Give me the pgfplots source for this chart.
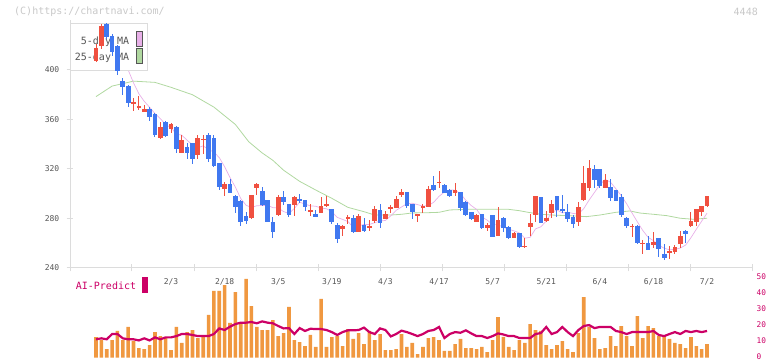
\documentclass[border=0pt]{standalone}
\usepackage{pgfplots}
\pgfplotsset{compat=1.18}
\usepackage{pgfplotstable}
\usepackage{fontspec}
\setmainfont{DejaVu Sans Mono}
\definecolor{cRed}{RGB}{240,80,64}
\definecolor{cBlue}{RGB}{64,120,240}
\definecolor{cOrange}{RGB}{240,152,64}
\definecolor{cMag}{RGB}{204,0,102}
\definecolor{cPink}{RGB}{232,176,232}
\definecolor{cGreen}{RGB}{176,216,160}
\definecolor{cAxis}{RGB}{220,220,220}
\definecolor{cText}{RGB}{85,85,85}
\definecolor{cWm}{RGB}{200,200,200}

\pgfplotstableread{
i O H L C
0 407.3 421 406.6 417.5
1 419.7 437 417 435.6
7 373 377.4 367 374.4
8 369.8 379 367.7 370.9
9 366.3 372 366 368.8
12 345.3 358 344.5 353.7
14 352 357.4 348.8 356.4
16 333.2 347.5 333 343.4
19 331 347.5 328.4 344.8
20 343.6 347.5 332.4 344.4
24 303.6 309.5 298.5 307.9
29 280.4 299 279.9 299
30 304.6 309 299.3 307.6
34 282.8 299 282 297.4
37 291.2 298.2 282 297.4
40 285.8 291.7 282 286.6
42 284.7 297.4 284.7 290.1
43 290.6 298.2 289 291.7
46 271.5 274.7 266.1 273.7
47 279.9 283.1 275.8 281
49 269.4 283.4 269.4 282
51 272.9 278.8 269.6 273.9
52 278 290.1 276 287.7
54 279.9 286.1 279.9 283.6
55 288.2 290.9 284.7 289
56 288.8 298.2 288.5 295.8
57 299.3 303.8 297.1 301.4
60 282.8 284 277.4 283.6
61 288.8 291.7 284.4 289.8
62 289.3 306.5 289 303.8
64 308.7 318.7 304.6 309.5
67 300.9 308.8 298.2 303
71 277.4 283.6 277 282.8
73 272.6 276.6 270.2 275
75 266.1 289 266 279.1
78 264.5 269.1 264.5 268.3
80 257.2 264.2 256.2 258
81 273.1 283.6 266.1 276.4
82 283.1 298.5 277.4 298.2
84 278.2 286.1 277.2 280.7
85 284.4 294.9 280.7 291.7
90 277.4 293.3 274.2 289.3
91 294.9 322.7 294.1 308.7
92 304.9 327.3 302.5 320.8
95 304.6 316 304.6 311.1
100 273.4 275.8 265.3 274.2
102 259.6 262.4 251.6 260.4
104 258.9 269.4 256.4 261
107 252.4 257.8 247.5 253.7
108 253.2 258.6 251.6 257
109 259.7 269.9 256.4 265.9
111 273.9 285.3 273.1 278
112 277.4 287.7 274.2 287.7
113 285.3 290.1 282 290.1
114 290.1 298.2 289.3 298.2
}\up

\pgfplotstableread{
i O H L C
2 437 438 425 427
3 427.5 429 411 414.8
4 419.4 420 396 399.2
5 391 393.5 380 386.5
6 387 388 370 373
10 368.8 369.8 358.5 362.3
11 364.4 365 345.6 347.7
13 358 359 346 347
15 354 355 332.7 336.4
17 337.8 341.3 328.4 332.7
18 340.7 341 324.3 328.4
21 347.5 348.8 326 328.4
22 345 347.7 322 322.7
23 324.6 325 303 305.7
25 307.9 312 300.3 300.9
26 298.2 299 284.7 289.6
27 294.4 294.7 274.2 276.9
28 282 285.2 275.8 278.2
31 302.2 305.5 290 290.9
32 294.9 295 277 277.2
33 277.2 281.5 264.5 269.1
35 297.4 302.2 291.2 293.6
36 291.7 292 281.5 283.1
38 295.8 299.8 292.8 294.4
39 294.9 295 286.3 289.5
41 283.6 286.9 281 281.5
44 287.7 288 275.8 277.4
45 274.5 276 260.5 263.7
48 280.4 282.8 268.6 269.4
50 274.7 280.4 269.4 269.9
53 286.9 291.7 272.6 276.7
58 301.4 301.5 288.2 290.1
59 291.7 292 279.9 285.3
63 307.1 314.6 302.5 303
65 307.1 307.5 300.5 300.9
66 303 303.8 297.4 298.2
68 301.4 301.5 286.3 288.8
69 293.3 294 282 282.8
70 285.3 285.5 279 279.6
72 283.6 284 271.8 272.6
74 282.8 283 265 265.3
76 280.4 281.2 269.4 272.6
77 273.1 274 263.7 264.5
79 268.3 268.5 256.4 257.2
83 297.4 297.5 276.4 276.7
86 298.2 298.5 281.2 287.1
87 287.7 299 284.7 286.1
88 285.3 291.7 277.4 279.9
89 281.2 282.8 272.6 275.8
93 320 323.5 304.9 311.1
94 320 320.3 304.9 306.5
96 305.5 311.9 294.4 296.8
97 303 303.3 294 294.4
98 297.4 299.8 281.5 283.1
99 280.4 281.2 272.6 274.2
101 274.2 274.5 259.7 260.5
103 260.2 266.1 254.5 254.8
105 264.2 264.5 249.2 255.6
106 251.3 259.7 246.7 248.4
110 269.9 270.7 260.5 267.7
}\down

\pgfplotstableread{
i m
4 418.8
5 412.6
6 400.1
7 389.6
8 380.8
9 374.7
10 369.9
11 364.8
12 360.7
13 355.9
14 353.4
15 348.2
16 347.4
17 343.2
18 339.5
19 337.1
20 338.7
21 335.7
22 333.7
23 329.2
24 321.8
25 313.1
26 305.4
27 296.2
28 290.7
29 288.9
30 290.3
31 290.5
32 290.6
33 288.8
34 288.4
35 285.6
36 284.1
37 288.1
38 293.2
39 291.6
40 290.2
41 289.9
42 288.4
43 287.9
44 285.5
45 280.9
46 279.3
47 277.5
48 273.0
49 274.0
50 275.2
51 275.2
52 276.6
53 278.0
54 278.4
55 282.2
56 286.6
57 289.3
58 292.0
59 292.3
60 291.2
61 290.0
62 290.5
63 293.1
64 297.9
65 301.4
66 303.1
67 302.9
68 300.1
69 294.7
70 290.5
71 287.4
72 281.3
73 278.6
74 275.1
75 275.0
76 272.9
77 271.3
78 270.0
79 268.3
80 264.1
81 264.8
82 271.6
83 273.3
84 278.0
85 284.7
86 286.9
87 284.5
88 285.1
89 284.1
90 283.6
91 288.0
92 294.9
93 301.1
94 307.3
95 311.6
96 309.3
97 304.0
98 298.4
99 291.9
100 284.5
101 277.3
102 270.4
103 264.8
104 262.1
105 258.4
106 256.0
107 254.7
108 255.1
109 256.1
110 258.5
111 264.5
112 271.3
113 277.9
114 284.3
}\maFive

\pgfplotstableread{
i m
0 378.5
3 387
7 391
11 390
14 386
18 380
22 370
26 356
28.5 342
31 333
33 327
35 319
38 310
41 303
44 296.3
47 289
50 285.5
52 282.8
55 282.8
57 283.4
59 284.5
62 284.7
64 285
66 286.9
69 287.4
72 287.4
77 287.4
79 286.3
81 284.7
83 283.4
85 282.8
88 282.3
91.5 281.5
94 282.8
97 285
99.6 286.1
101.5 284.4
104 283.4
106.5 282.3
109 280.2
111.4 279.4
114 280.2
}\maTwentyFive

\pgfplotstableread{
i v a
0 12.9 11.5
1 11 12.1
2 5.4 11.5
3 11 14.8
4 16.7 14.8
5 11 12.1
6 19.2 11.5
7 10.4 11.5
8 6 10.8
9 5.4 12.1
10 7.9 10.8
11 16 12.7
12 13.5 11.5
13 12.9 12.7
14 4.8 12.7
15 19.2 13.5
16 9.2 14.8
17 16 14.8
18 17.3 14.2
19 12.3 13.5
20 12.9 13.5
21 26.7 13.5
22 41.7 14.8
23 41.7 18.3
24 45.4 17.3
25 21.7 19.4
26 41 21
27 21.7 21.9
28 49.2 21.9
29 32.3 22.3
30 19.2 21.5
31 17.3 22.7
32 17.3 21.9
33 23.5 21.5
34 13.5 19.8
35 15.4 18.3
36 31.7 18.5
37 11 14.8
38 9.8 18.5
39 7.3 16.7
40 14.2 18.1
41 6.7 17.9
42 36.7 17.9
43 6.7 17.3
44 12.9 16
45 13.5 14.2
46 7.3 16
47 17.9 17.1
48 11.7 17.1
49 15.4 17.3
50 8.5 18.8
51 16.7 16
52 11 14.8
53 14.8 18.3
54 4.8 17.3
55 4.8 13.3
56 5.4 14.8
57 14.8 16.9
58 6.7 16
59 9.2 14.8
60 2.3 13.5
61 6.7 14.8
62 12.3 16.7
63 12.9 17.3
64 11 19.2
65 4.2 12.3
66 4.2 14.8
67 8.5 16
68 11.7 15.6
69 6 17.1
70 6 15.2
71 5.4 13.5
72 6.7 13.5
73 3.5 12.3
74 11 13.5
75 25.4 15.2
76 13 14.5
77 6.7 13.5
78 4.8 13.5
79 11 12.3
80 9.2 12.3
81 21 12.3
82 17.3 14.8
83 16.7 15.4
84 7.9 19.2
85 5.4 14.8
86 7.9 16
87 10.4 19.2
88 5.4 16
89 3.5 13.5
90 15.4 17.3
91 37.9 19.8
92 19.2 20.4
93 12.3 18.5
94 5.4 19.2
95 6 19.2
96 13.5 19.2
97 7.3 16.7
98 19.8 16
99 13.5 14.8
100 7.3 16
101 26 16
102 12.3 16
103 19.8 16
104 18.5 16.7
105 13.5 14.2
106 13.5 13.5
107 11.7 14.8
108 9.2 16
109 8.5 14.8
110 6 16.7
111 12.9 16
112 7.3 16.7
113 5.4 16
114 8.5 16.7
}\vol

\begin{document}
\begin{tikzpicture}[x=1pt,y=1pt]
\useasboundingbox (0,0) rectangle (772,361);
\node[anchor=west, inner sep=0pt, text=cWm, font=\fontsize{10}{12}\selectfont] at (14,349) {(C)https://chartnavi.com/};
\node[anchor=east, inner sep=0pt, text=cWm, font=\fontsize{10}{12}\selectfont] at (758,349) {4448};

\begin{axis}[
  at={(70pt,93pt)}, anchor=south west, scale only axis,
  width=682pt, height=247.5pt,
  xmin=-4.851, xmax=122.388, ymin=240, ymax=440,
  clip=false,
  axis x line*=bottom, axis y line*=left,
  axis line style={draw=cAxis, line width=1pt},
  tick style={draw=cAxis, line width=1pt},
  tick align=center, major tick length=7pt,
  xtick={-4.851,6.716,18.284,29.851,41.418,52.985,64.552,76.119,87.687,99.254,110.821,122.388},
  xticklabels={},
  ytick={240,280,320,360,400},
  /pgf/number format/assume math mode=true,
  yticklabel style={font=\fontsize{8}{9}\selectfont, text=cText, anchor=east, inner sep=0pt, xshift=-7pt},
]
\addplot[cGreen, line width=0.8pt, mark=none] table[x=i, y=m] {\maTwentyFive};
\addplot[cPink, line width=0.7pt, mark=none] table[x=i, y=m] {\maFive};
% legend box (drawn under the candles)
\draw[fill=white, draw=cAxis, line width=1pt] (axis cs:-4.851,437.2) rectangle (axis cs:9.70,399.2);
\node[anchor=base east, inner sep=0pt, text=cText, font=\fontsize{10}{12}\selectfont] at (axis cs:6.21,421) {5-day MA};
\node[anchor=base east, inner sep=0pt, text=cText, font=\fontsize{10}{12}\selectfont] at (axis cs:6.21,407.5) {25-day MA};
\draw[fill=cPink, draw=cText, line width=0.8pt] (axis cs:7.59,431.3) rectangle (axis cs:8.71,418.8);
\draw[fill=cGreen, draw=cText, line width=0.8pt] (axis cs:7.59,417.4) rectangle (axis cs:8.71,405.4);
% wicks
\addplot[draw=none, mark=none, error bars/.cd, y dir=both, y explicit, error mark=none,
  error bar style={draw=cRed, line width=1pt}]
  table[x=i, y expr=(\thisrow{H}+\thisrow{L})/2, y error expr=(\thisrow{H}-\thisrow{L})/2] {\up};
\addplot[draw=none, mark=none, error bars/.cd, y dir=both, y explicit, error mark=none,
  error bar style={draw=cBlue, line width=1pt}]
  table[x=i, y expr=(\thisrow{H}+\thisrow{L})/2, y error expr=(\thisrow{H}-\thisrow{L})/2] {\down};
% bodies
\addplot[draw=none, mark=none, error bars/.cd, y dir=both, y explicit, error mark=none,
  error bar style={draw=cRed, line width=4.7pt}]
  table[x=i, y expr=(\thisrow{O}+\thisrow{C})/2, y error expr=abs(\thisrow{C}-\thisrow{O})/2] {\up};
\addplot[draw=none, mark=none, error bars/.cd, y dir=both, y explicit, error mark=none,
  error bar style={draw=cBlue, line width=4.7pt}]
  table[x=i, y expr=(\thisrow{O}+\thisrow{C})/2, y error expr=abs(\thisrow{C}-\thisrow{O})/2] {\down};
\end{axis}

\begin{axis}[
  at={(70pt,3.3pt)}, anchor=south west, scale only axis,
  width=682pt, height=80pt,
  xmin=-4.851, xmax=122.388, ymin=0, ymax=50,
  clip=false,
  axis line style={draw=none}, tick style={draw=none},
  major tick length=0pt,
  xtick={14,24,34,44,54,64,74,84,94,104,114},
  xticklabels={2/3,2/18,3/5,3/19,4/3,4/17,5/7,5/21,6/4,6/18,7/2},
  xticklabel pos=upper,
  xticklabel style={font=\fontsize{8}{9}\selectfont, text=cText, anchor=base, inner sep=0pt, yshift=-7.3pt},
  ytick={0,10,20,30,40,50},
  yticklabel pos=right,
  /pgf/number format/assume math mode=true,
  yticklabel style={font=\fontsize{7.8}{9}\selectfont, text=cMag, anchor=west, inner sep=0pt, xshift=4.5pt, yshift=0.8pt},
]
\addplot[ybar, bar width=3.6pt, fill=cOrange, draw=none] table[x=i, y=v] {\vol};
\addplot[cMag, line width=2.2pt, mark=none] table[x=i, y=a] {\vol};
\end{axis}

\node[anchor=base west, inner sep=0pt, text=cMag, font=\fontsize{10}{12}\selectfont] at (75.7,71) {AI-Predict};
\fill[cMag] (142,84.3) rectangle (148.3,68.3);
\end{tikzpicture}
\end{document}
